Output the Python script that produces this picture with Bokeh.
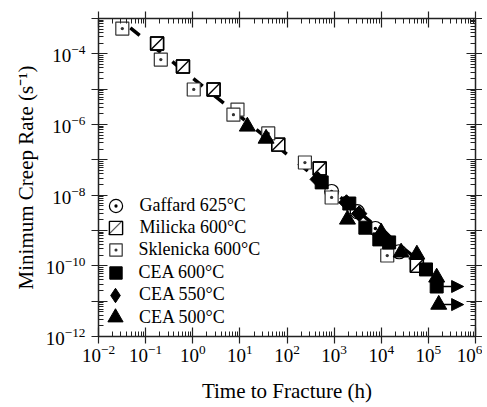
import math
from bokeh.plotting import figure
from bokeh.models import (LogAxis, FixedTicker, Legend, LegendItem, Arrow,
                          NormalHead, Range1d, PolyAnnotation)
from bokeh.embed import file_html
from bokeh.resources import INLINE

# ---- data (time to fracture [h], min creep rate [1/s]) ----
gaffard_t = [885, 3.1e3, 7.5e3, 2.4e4]
gaffard_rate = [1.27e-8, 3.4e-9, 1.14e-9, 2.5e-10]

milicka_t = [0.175, 0.62, 2.77, 65, 495, 5.7e4]
milicka_rate = [1.96e-4, 4.4e-5, 9.8e-6, 2.7e-7, 5.7e-8, 1.0e-10]

sklenicka_t = [0.032, 0.21, 1.05, 8.9, 7.3, 40, 240, 885, 1.34e4]
sklenicka_rate = [5.2e-4, 6.9e-5, 9.8e-6, 2.65e-6, 1.9e-6, 5.6e-7, 8.4e-8, 8.6e-9, 1.96e-10]

cea600_t = [545, 2.1e3, 4.6e3, 9.1e3, 1.47e4, 8.9e4, 1.5e5]
cea600_rate = [2.3e-8, 5.8e-9, 1.2e-9, 5.6e-10, 4.6e-10, 7.9e-11, 2.6e-11]

cea550_t = [450, 1.83e3, 3.4e3, 1.2e4]
cea550_rate = [2.8e-8, 6.2e-9, 3.0e-9, 6.3e-10]

cea500_t = [14.4, 36, 1.92e3, 1.0e4, 2.64e4, 5.7e4, 1.5e5, 1.66e5]
cea500_rate = [8.8e-7, 4.0e-7, 2.05e-9, 8.8e-10, 2.4e-10, 2.1e-10, 4.7e-11, 8.0e-12]

# run-out (unbroken) specimens
runout_t_start = [1.5e5, 1.66e5]
runout_t_end = [5.6e5, 5.6e5]
runout_rate = [2.6e-11, 8.0e-12]

# Monkman-Grant type fit line end points
fit_t = [0.03, 1.0e5]
fit_rate = [8.9e-4, 8.5e-11]

legend_labels = ["Gaffard 625\u00b0C", "Milicka 600\u00b0C", "Sklenicka 600\u00b0C",
                 "CEA 600\u00b0C", "CEA 550\u00b0C", "CEA 500\u00b0C"]

x_major = [10.0 ** k for k in range(-2, 7)]
y_major = [10.0 ** k for k in range(-12, -2)]
y_labelled = [-12, -10, -8, -6, -4]

FONT = "Liberation Serif"

p = figure(frame_width=377, frame_height=318, x_axis_type="log", y_axis_type="log",
           x_range=Range1d(1e-2, 1e6), y_range=Range1d(1e-12, 1e-3),
           output_backend="svg", toolbar_location=None,
           min_border_left=98, min_border_top=18, min_border_right=2, min_border_bottom=10,
           background_fill_color="white", border_fill_color="white")
p.outline_line_color = None
p.grid.visible = False

x_minor = [m * 10.0 ** k for k in range(-2, 6) for m in range(2, 10)]
y_minor = [m * 10.0 ** k for k in range(-12, -3) for m in range(2, 10)]


def style_axis(ax, show_labels):
    ax.axis_line_color = "#222222"
    ax.axis_line_width = 1.5
    ax.major_tick_line_color = "#222222"
    ax.minor_tick_line_color = "#222222"
    ax.major_tick_line_width = 1.2
    ax.minor_tick_line_width = 1
    ax.major_tick_in = 9
    ax.major_tick_out = 7
    ax.minor_tick_in = 5
    ax.minor_tick_out = 0
    ax.major_label_text_font = FONT
    ax.major_label_text_color = "black"
    ax.axis_label_text_font = FONT
    ax.axis_label_text_font_style = "normal"
    ax.axis_label_text_color = "black"
    if not show_labels:
        ax.major_label_text_font_size = "1px"
        ax.major_label_text_alpha = 0
        ax.major_label_standoff = 0


xb = p.xaxis[0]
xb.ticker = FixedTicker(ticks=x_major, minor_ticks=x_minor)
style_axis(xb, True)
xb.axis_label = "Time to Fracture (h)"
xb.axis_label_text_font_size = "21px"
xb.major_label_text_font_size = "19px"
xb.major_label_standoff = 1
xb.axis_label_standoff = 14

yl = p.yaxis[0]
yl.ticker = FixedTicker(ticks=y_major, minor_ticks=y_minor)
style_axis(yl, True)
yl.axis_label = "Minimum Creep Rate (s\u207b\u00b9)"
yl.axis_label_text_font_size = "21px"
yl.major_label_text_font_size = "19px"
yl.major_label_standoff = 6
yl.axis_label_standoff = 5
yl.major_label_overrides = {10.0 ** k: " " for k in range(-12, -2) if k not in y_labelled}

xt = LogAxis(ticker=FixedTicker(ticks=x_major, minor_ticks=x_minor))
style_axis(xt, False)
p.add_layout(xt, "above")
yr = LogAxis(ticker=FixedTicker(ticks=y_major, minor_ticks=y_minor))
style_axis(yr, False)
p.add_layout(yr, "right")

# fit line
p.line(fit_t, fit_rate, line_color="black", line_width=3.5, line_dash="12 15",
       line_dash_offset=15)

S = 13
r_g = p.scatter(gaffard_t, gaffard_rate, marker="circle_dot", size=14,
                fill_color="white", line_color="black", line_width=1.2)
r_m1 = p.scatter(milicka_t, milicka_rate, marker="square", size=S,
                 fill_color="white", line_color="black", line_width=1.4)
r_m2 = p.scatter(milicka_t, milicka_rate, marker="dash", size=S * 1.41, angle=math.pi / 4,
                 line_color="black", line_width=1.4)
# unfilled outline on top of the Milicka squares (the legend uses it)
r_m3 = p.scatter(milicka_t, milicka_rate, marker="square", size=S,
                 fill_alpha=0, line_color="black", line_width=1.4)
r_s = p.scatter(sklenicka_t, sklenicka_rate, marker="square_dot", size=S,
                fill_color="white", line_color="#333333", line_width=1.2)
r_c6 = p.scatter(cea600_t, cea600_rate, marker="square", size=S,
                 fill_color="black", line_color="black")
# diamond glyph (used by the legend) fully covered by a wider rotated square
r_c5 = p.scatter(cea550_t, cea550_rate, marker="diamond", size=S,
                 fill_color="black", line_color="black")
p.scatter(cea550_t, cea550_rate, marker="square", size=11, angle=math.pi / 4,
          fill_color="black", line_color="black")
r_c4 = p.scatter(cea500_t, cea500_rate, marker="triangle", size=16,
                 fill_color="black", line_color="black")

for t0, t1, r in zip(runout_t_start, runout_t_end, runout_rate):
    p.add_layout(Arrow(x_start=t0, y_start=r, x_end=t1, y_end=r,
                       line_color="black", line_width=1.5,
                       end=NormalHead(size=12, fill_color="black", line_color="black")))

# legend: one Legend per entry so that the row pitch can be tighter than the glyph box
GLYPHS = [33, 33, 31, 31, 36, 38]
PITCH = 22.4
TOP_CENTER = 131.0  # distance of first glyph centre above the frame bottom
CX = 17.0           # glyph centre from the frame's left edge
TEXT_X = 41.0       # label start from the frame's left edge
renderers = [r_g, r_m3, r_s, r_c6, r_c5, r_c4]
for i, (lab, rend, gs) in enumerate(zip(legend_labels, renderers, GLYPHS)):
    cy = TOP_CENTER - i * PITCH
    lg = Legend(items=[LegendItem(label=lab, renderers=[rend])],
                location=(CX - gs / 2, cy - gs / 2))
    lg.background_fill_alpha = 0
    lg.border_line_color = None
    lg.padding = 0
    lg.margin = 0
    lg.glyph_height = gs
    lg.glyph_width = gs
    lg.label_height = 20
    lg.label_standoff = int(round(TEXT_X - CX - gs / 2))
    lg.label_text_font = FONT
    lg.label_text_font_size = "18px"
    lg.label_text_color = "black"
    p.add_layout(lg)
    if rend is r_m3:
        h = 0.4 * gs / 2
        p.add_layout(PolyAnnotation(xs=[CX - h, CX + h, CX + h - 0.3, CX - h - 0.3],
                                    ys=[cy - h, cy + h, cy + h + 0.3, cy - h + 0.3],
                                    xs_units="screen", ys_units="screen", level="overlay",
                                    fill_color="black", fill_alpha=1,
                                    line_color="black", line_width=1.2))

open("out.html", "w").write(file_html(p, INLINE))
